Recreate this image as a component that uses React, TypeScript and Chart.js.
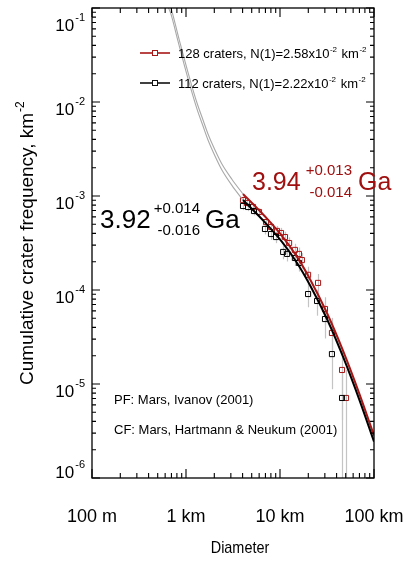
import React, { useEffect, useRef } from "react";
import { Chart, registerables } from "chart.js";

Chart.register(...registerables);

// ---- data (diameters in km, cumulative frequencies in km^-2) ----
const redD = [4.04, 4.46, 5.16, 5.98, 7.1, 8.02, 9.29, 10.25, 11.3, 12.5, 14.4, 15.9, 17.1, 19.9, 25.4, 30.1, 35.7, 45.7, 50.4];
const redN = [9.06e-4, 8.43e-4, 7.64e-4, 6.76e-4, 5.28e-4, 4.68e-4, 4.25e-4, 4.04e-4, 3.66e-4, 3.16e-4, 2.67e-4, 2.42e-4, 2.08e-4, 1.45e-4, 1.19e-4, 6.28e-5, 3.49e-5, 1.41e-5, 7.1e-6];
const redHi = [9.86e-4, 9.2e-4, 8.37e-4, 7.45e-4, 5.89e-4, 5.26e-4, 4.8e-4, 4.58e-4, 4.17e-4, 3.63e-4, 3.1e-4, 2.83e-4, 2.47e-4, 1.77e-4, 1.48e-4, 8.37e-5, 5.05e-5, 2.41e-5, 1.42e-5];
const redLo = [8.26e-4, 7.66e-4, 6.9e-4, 6.07e-4, 4.67e-4, 4.1e-4, 3.7e-4, 3.5e-4, 3.15e-4, 2.69e-4, 2.24e-4, 2.01e-4, 1.69e-4, 1.13e-4, 9.0e-5, 4.19e-5, 1.93e-5, 4.13e-6, 1e-8];

const blackD = [4.04, 4.57, 5.29, 6.92, 8.02, 9.06, 10.8, 11.9, 14.4, 15.9, 19.9, 24.8, 30.1, 35.7, 45.7];
const blackN = [7.83e-4, 7.64e-4, 6.92e-4, 4.46e-4, 3.94e-4, 3.66e-4, 2.54e-4, 2.42e-4, 2.19e-4, 1.94e-4, 9.06e-5, 7.64e-5, 4.91e-5, 2.08e-5, 7.1e-6];
const blackHi = [8.58e-4, 8.37e-4, 7.62e-4, 5.02e-4, 4.47e-4, 4.17e-4, 2.96e-4, 2.83e-4, 2.58e-4, 2.31e-4, 1.16e-4, 9.95e-5, 6.77e-5, 3.28e-5, 1.42e-5];
const blackLo = [7.08e-4, 6.9e-4, 6.22e-4, 3.9e-4, 3.41e-4, 3.15e-4, 2.12e-4, 2.01e-4, 1.8e-4, 1.57e-4, 6.55e-5, 5.33e-5, 3.05e-5, 8.8e-6, 1e-8];

// fitted isochrons (fit range)
const fitD = [4.04, 5.42, 7.28, 10.5, 15.2, 20.8, 31.6, 46.8, 71.0, 100];
const redFitN = [1.05e-3, 7.83e-4, 5.75e-4, 3.77e-4, 2.25e-4, 1.31e-4, 5.69e-5, 2.26e-5, 7.53e-6, 2.83e-6];
const blackFitN = [9.06e-4, 6.76e-4, 4.96e-4, 3.25e-4, 1.94e-4, 1.13e-4, 4.91e-5, 1.95e-5, 6.5e-6, 2.44e-6];

// isochron extensions outside the fit range (grey)
const extD = [0.645, 0.692, 0.822, 0.953, 1.13, 1.31, 1.52, 1.71, 2.04, 2.41, 3.09, 4.04];
const redExtN = [0.12, 0.1, 0.0516, 0.0294, 0.0159, 0.00976, 0.0064, 0.0046, 0.00307, 0.00219, 0.0015, 1.05e-3];
const blackExtN = [0.103, 0.086, 0.0444, 0.0253, 0.0137, 0.0084, 0.00552, 0.00397, 0.00265, 0.00189, 0.00129, 9.06e-4];

// axes
const xMajor = [0.1, 1, 10, 100];
const xTickLabels = ["100 m", "1 km", "10 km", "100 km"];
const yMajor = [1e-1, 1e-2, 1e-3, 1e-4, 1e-5, 1e-6];
const yTickExp = ["-1", "-2", "-3", "-4", "-5", "-6"];

const legendRed = ["128 craters, N(1)=2.58x10", "-2", " km", "-2"];
const legendBlack = ["112 craters, N(1)=2.22x10", "-2", " km", "-2"];
const ageBlack = ["3.92", "+0.014", "-0.016", "Ga"];
const ageRed = ["3.94", "+0.013", "-0.014", "Ga"];
const noteLines = ["PF: Mars, Ivanov (2001)", "CF: Mars, Hartmann & Neukum (2001)"];

const RED = "#a81616";
const TXTRED = "#a01010";
const FONT = "'Liberation Sans', Arial, Helvetica, sans-serif";

const pts = (xs: number[], ys: number[]) => xs.map((x, i) => ({ x, y: ys[i] }));

const decorPlugin = {
  id: "decor",
  beforeDatasetsDraw(chart: any) {
    const { ctx, chartArea: a, scales } = chart;
    const xs = scales.x, ys = scales.y;
    ctx.save();
    ctx.beginPath();
    ctx.rect(a.left, a.top, a.right - a.left, a.bottom - a.top);
    ctx.clip();
    ctx.strokeStyle = "#c4c4c4";
    ctx.lineWidth = 1.2;
    const bars = (D: number[], lo: number[], hi: number[]) => {
      D.forEach((d, i) => {
        const px = Math.round(xs.getPixelForValue(d)) + 0.5;
        ctx.beginPath();
        ctx.moveTo(px, ys.getPixelForValue(Math.max(lo[i], 1e-9)));
        ctx.lineTo(px, ys.getPixelForValue(hi[i]));
        ctx.stroke();
      });
    };
    bars(blackD, blackLo, blackHi);
    bars(redD, redLo, redHi);
    ctx.restore();
  },
  afterDraw(chart: any) {
    const { ctx, chartArea: a, scales } = chart;
    const xs = scales.x, ys = scales.y;
    ctx.save();
    // frame
    ctx.strokeStyle = "#000";
    ctx.lineWidth = 1.3;
    ctx.strokeRect(a.left, a.top, a.right - a.left, a.bottom - a.top);
    // ticks (inside)
    ctx.lineWidth = 1.1;
    const majL = 9, minL = 5;
    const xTicks: [number, boolean][] = [];
    for (let e = -1; e <= 2; e++) {
      xTicks.push([Math.pow(10, e), true]);
      if (e < 2) for (let m = 2; m <= 9; m++) xTicks.push([m * Math.pow(10, e), false]);
    }
    xTicks.forEach(([v, maj]) => {
      const px = xs.getPixelForValue(v);
      const L = maj ? majL : minL;
      ctx.beginPath();
      ctx.moveTo(px, a.bottom);
      ctx.lineTo(px, a.bottom - L);
      ctx.moveTo(px, a.top);
      ctx.lineTo(px, a.top + L);
      ctx.stroke();
    });
    const yTicks: [number, boolean][] = [];
    for (let e = -6; e <= -1; e++) {
      yTicks.push([Math.pow(10, e), true]);
      if (e < -1) for (let m = 2; m <= 9; m++) yTicks.push([m * Math.pow(10, e), false]);
    }
    yTicks.forEach(([v, maj]) => {
      const py = ys.getPixelForValue(v);
      const L = maj ? 8 : 4;
      ctx.beginPath();
      ctx.moveTo(a.left, py);
      ctx.lineTo(a.left + L, py);
      ctx.moveTo(a.right, py);
      ctx.lineTo(a.right - L, py);
      ctx.stroke();
    });

    ctx.fillStyle = "#000";
    ctx.textBaseline = "alphabetic";
    // y tick labels
    yMajor.forEach((v, i) => {
      const t = ys.getPixelForValue(v);
      const c = Math.min(Math.max(t + 5, a.top + 15), a.bottom - 8);
      const base = c + 8;
      ctx.font = `17px ${FONT}`;
      const w10 = ctx.measureText("10").width;
      ctx.font = `11px ${FONT}`;
      const we = ctx.measureText(yTickExp[i]).width;
      const x0 = a.left - 7 - w10 - we - 1;
      ctx.font = `17px ${FONT}`;
      ctx.textAlign = "left";
      ctx.fillText("10", x0, base);
      ctx.font = `11px ${FONT}`;
      ctx.fillText(yTickExp[i], x0 + w10 + 1, base - 10);
    });
    // x tick labels
    ctx.font = `18px ${FONT}`;
    ctx.textAlign = "center";
    xMajor.forEach((v, i) => {
      ctx.fillText(xTickLabels[i], xs.getPixelForValue(v), 522);
    });
    // x title (slightly condensed)
    ctx.save();
    ctx.translate(240, 553);
    ctx.scale(0.85, 1);
    ctx.font = `17px ${FONT}`;
    ctx.fillText("Diameter", 0, 0);
    ctx.restore();
    // y title
    ctx.save();
    ctx.translate(33, 385);
    ctx.rotate(-Math.PI / 2);
    ctx.textAlign = "left";
    ctx.font = `19px ${FONT}`;
    const yt = "Cumulative crater frequency, km";
    ctx.fillText(yt, 0, 0);
    const ytw = ctx.measureText(yt).width;
    ctx.font = `12px ${FONT}`;
    ctx.fillText("-2", ytw + 1, -9);
    ctx.restore();

    // legend
    const legend = (parts: string[], color: string, y: number) => {
      ctx.strokeStyle = color;
      ctx.lineWidth = 1.6;
      ctx.beginPath();
      ctx.moveTo(140, y);
      ctx.lineTo(170, y);
      ctx.stroke();
      ctx.fillStyle = "#fff";
      ctx.fillRect(152.5, y - 2.5, 5, 5);
      ctx.lineWidth = 1;
      ctx.strokeRect(152.5, y - 2.5, 5, 5);
      ctx.fillStyle = "#000";
      ctx.textAlign = "left";
      let x = 178;
      parts.forEach((p, k) => {
        const sup = k % 2 === 1;
        ctx.font = sup ? `8px ${FONT}` : `13px ${FONT}`;
        ctx.fillText(p, x, sup ? y - 1 : y + 5);
        x += ctx.measureText(p).width + (sup ? 1 : 0.5);
      });
    };
    legend(legendRed, RED, 53);
    legend(legendBlack, "#111", 83);

    // ages
    const age = (parts: string[], color: string, x: number, base: number, big: number, supRight: number, gaX: number) => {
      ctx.fillStyle = color;
      ctx.textAlign = "left";
      ctx.font = `${big}px ${FONT}`;
      ctx.fillText(parts[0], x, base);
      ctx.fillText(parts[3], gaX, base);
      ctx.font = `15px ${FONT}`;
      ctx.textAlign = "right";
      ctx.fillText(parts[1], supRight, base - 15);
      ctx.fillText(parts[2], supRight, base + 7);
    };
    age(ageBlack, "#000", 100, 228, 26, 200, 205);
    age(ageRed, TXTRED, 252, 190, 25, 352, 358);

    // notes
    ctx.fillStyle = "#000";
    ctx.textAlign = "left";
    ctx.font = `13px ${FONT}`;
    ctx.fillText(noteLines[0], 114, 404);
    ctx.fillText(noteLines[1], 114, 434);
    ctx.restore();
  },
};

export default function App() {
  const ref = useRef<HTMLCanvasElement>(null);
  useEffect(() => {
    const canvas = ref.current;
    if (!canvas) return;
    const chart = new Chart(canvas, {
      type: "line",
      data: {
        datasets: [
          { data: pts(extD, redExtN), borderColor: "#a9a9a9", borderWidth: 1.1, pointRadius: 0, cubicInterpolationMode: "monotone", fill: false },
          { data: pts(extD, blackExtN), borderColor: "#a9a9a9", borderWidth: 1.1, pointRadius: 0, cubicInterpolationMode: "monotone", fill: false },
          { data: pts(fitD, blackFitN), borderColor: "#000", borderWidth: 2, pointRadius: 0, cubicInterpolationMode: "monotone", fill: false },
          { data: pts(fitD, redFitN), borderColor: RED, borderWidth: 2, pointRadius: 0, cubicInterpolationMode: "monotone", fill: false },
          { data: pts(blackD, blackN), showLine: false, pointStyle: "rect", pointRadius: 3.6, borderWidth: 1, pointBorderColor: "#000", pointBackgroundColor: "rgba(255,255,255,0)" },
          { data: pts(redD, redN), showLine: false, pointStyle: "rect", pointRadius: 3.6, borderWidth: 1, pointBorderColor: RED, pointBackgroundColor: "rgba(255,255,255,0)" },
        ] as any,
      },
      options: {
        responsive: false,
        animation: false,
        devicePixelRatio: 1,
        events: [],
        layout: { padding: { left: 92, top: 8, right: 35, bottom: 90 } },
        plugins: { legend: { display: false }, tooltip: { enabled: false } },
        scales: {
          x: { type: "logarithmic", min: 0.1, max: 100, display: false },
          y: { type: "logarithmic", min: 1e-6, max: 1e-1, display: false },
        },
      } as any,
      plugins: [decorPlugin],
    });
    return () => chart.destroy();
  }, []);
  return (
    <div style={{ position: "absolute", left: 0, top: 0, width: 409, height: 568, background: "#fff" }}>
      <canvas ref={ref} width={409} height={568} style={{ display: "block" }} />
    </div>
  );
}
